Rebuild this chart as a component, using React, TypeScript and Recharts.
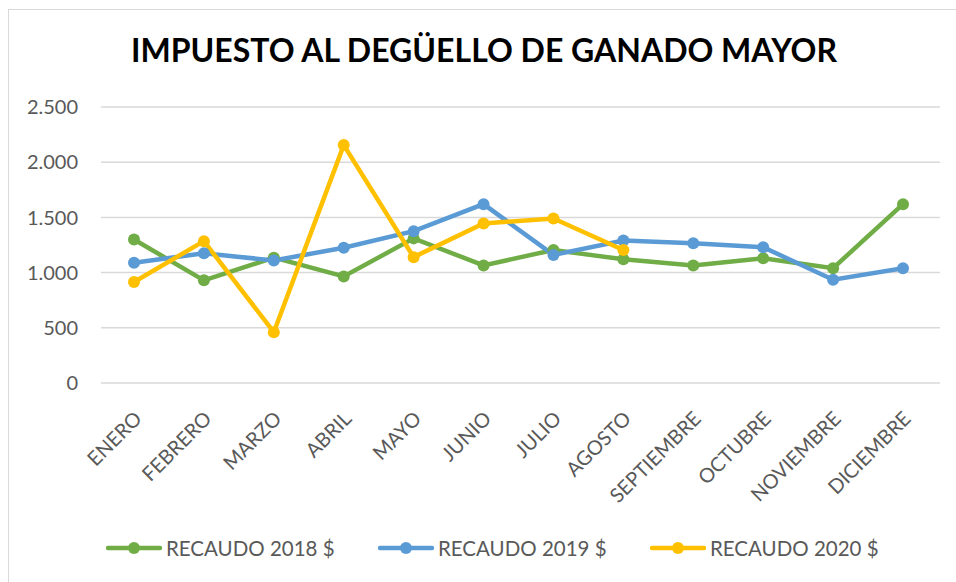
import React from "react";
import { LineChart, Line, XAxis, YAxis, CartesianGrid, Legend } from "recharts";

const months = [
  "ENERO", "FEBRERO", "MARZO", "ABRIL", "MAYO", "JUNIO",
  "JULIO", "AGOSTO", "SEPTIEMBRE", "OCTUBRE", "NOVIEMBRE", "DICIEMBRE"
];
const recaudo2018 = [1300, 930, 1135, 965, 1310, 1065, 1205, 1120, 1065, 1130, 1040, 1620];
const recaudo2019 = [1090, 1175, 1110, 1225, 1375, 1620, 1160, 1290, 1265, 1230, 935, 1040];
const recaudo2020 = [915, 1285, 460, 2155, 1140, 1445, 1490, 1205, null, null, null, null];
const yTicks = [0, 500, 1000, 1500, 2000, 2500];

const seriesInfo = [
  { key: "r2018", name: "RECAUDO 2018 $", color: "#70ad47" },
  { key: "r2019", name: "RECAUDO 2019 $", color: "#5b9bd5" },
  { key: "r2020", name: "RECAUDO 2020 $", color: "#ffc000" }
];

const data = months.map((m, i) => ({
  month: m,
  r2018: recaudo2018[i],
  r2019: recaudo2019[i],
  r2020: recaudo2020[i]
}));

const FONT = "Lato, 'Open Sans', sans-serif";
const GRAY = "#595959";

const fmt = (v: number) => v.toLocaleString("de-DE");

const MonthTick = (props: any) => {
  const { x, y, payload } = props;
  const ax = x + 9;
  const ay = y + 29;
  return (
    <text
      x={ax}
      y={ay}
      transform={`rotate(-45 ${ax} ${ay})`}
      textAnchor="end"
      fill={GRAY}
      fontSize={20}
      fontFamily={FONT}
    >
      {payload.value}
    </text>
  );
};

const LegendContent = () => (
  <div style={{ display: "flex", justifyContent: "flex-start", paddingLeft: 106, fontFamily: FONT }}>
    {seriesInfo.map((s) => (
      <div key={s.key} style={{ display: "flex", alignItems: "center", width: 272 }}>
        <svg width={56} height={16}>
          <line x1={2} y1={8} x2={54} y2={8} stroke={s.color} strokeWidth={4.5} strokeLinecap="round" />
          <circle cx={28} cy={8} r={6} fill={s.color} />
        </svg>
        <span style={{ color: GRAY, fontSize: 20.5, marginLeft: 4, whiteSpace: "nowrap" }}>{s.name}</span>
      </div>
    ))}
  </div>
);

export default function App() {
  return (
    <div style={{ position: "absolute", left: 0, top: 0, width: 956, height: 582, background: "#fff", overflow: "hidden" }}>
      <div
        style={{
          position: "absolute", left: 8, top: 9, width: 1000, height: 1000,
          borderLeft: "1.5px solid #d9d9d9", borderTop: "1.5px solid #d9d9d9"
        }}
      />
      <div
        style={{
          position: "absolute", left: 0, width: 968, top: 30, textAlign: "center",
          fontFamily: FONT, fontWeight: 700, fontSize: 32, color: "#000", whiteSpace: "nowrap"
        }}
      >
        IMPUESTO AL DEGÜELLO DE GANADO MAYOR
      </div>
      <LineChart
        width={956}
        height={582}
        data={data}
        margin={{ top: 107, right: 16, left: 0, bottom: 6 }}
      >
        <CartesianGrid vertical={false} stroke="#d9d9d9" strokeWidth={1.5} />
        <XAxis
          dataKey="month"
          axisLine={false}
          tickLine={false}
          interval={0}
          height={153}
          padding={{ left: 33, right: 37 }}
          tick={<MonthTick />}
        />
        <YAxis
          width={101}
          domain={[0, 2500]}
          ticks={yTicks}
          axisLine={false}
          tickLine={false}
          tickSize={0}
          tickMargin={23}
          tickFormatter={fmt}
          tick={{ fill: GRAY, fontSize: 20, fontFamily: FONT }}
        />
        <Legend verticalAlign="bottom" height={40} content={<LegendContent />} />
        {seriesInfo.map((s) => (
          <Line
            key={s.key}
            type="linear"
            dataKey={s.key}
            name={s.name}
            stroke={s.color}
            strokeWidth={4.5}
            dot={{ r: 6, fill: s.color, stroke: s.color, strokeWidth: 0 }}
            activeDot={false}
            isAnimationActive={false}
          />
        ))}
      </LineChart>
    </div>
  );
}
